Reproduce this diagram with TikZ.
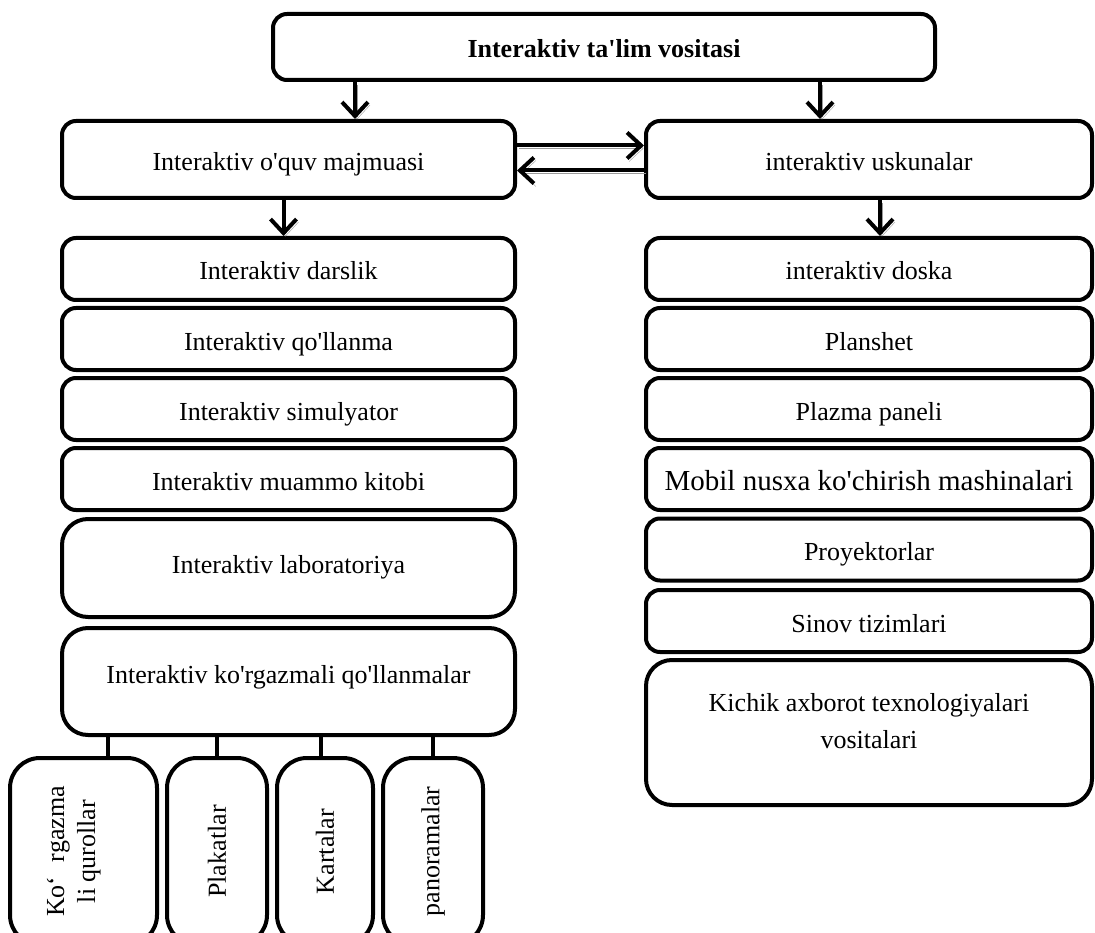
\documentclass[tikz,border=0pt]{standalone}
\usepackage{fontspec}
\setmainfont{Liberation Serif}[Ligatures=TeXOff]
\usetikzlibrary{arrows.meta, positioning, calc}
\definecolor{CShadow}{HTML}{9A9A9A}

\tikzset{
  box/.style={draw, line width=4pt, rounded corners=14pt, minimum height=62pt, inner sep=0pt,
    text height=23pt, text depth=1pt},
  leftbox/.style={box, minimum width=453pt},
  rightbox/.style={box, minimum width=446pt},
  tallbox/.style={rounded corners=26pt},
  vertbox/.style={box, rounded corners=30pt, minimum height=187pt, text height=, text depth=},
  inlabel/.style={text height=23pt, text depth=1pt},
  arr/.style={line width=4pt, -{Straight Barb[length=14pt,width=26pt]},
    preaction={draw=CShadow, transform canvas={shift={(2pt,-3pt)}}}},
  stub/.style={line width=4pt}
}

\begin{document}
\begin{tikzpicture}[x=1pt, y=-1pt, font=\fontsize{26pt}{31pt}\selectfont]
    \useasboundingbox (0,0) rectangle (1095,933);
    \clip (0,0) rectangle (1095,933);

    % Top
    \node[box, minimum width=662pt, minimum height=66pt, font=\fontsize{26pt}{31pt}\selectfont\bfseries] (vosita) at (604,47) {Interaktiv ta'lim vositasi};

    % Level 1
    \node[leftbox, minimum height=77pt] (majmua) at (288.5,159.5) {Interaktiv o'quv majmuasi};
    \node[rightbox, minimum height=77pt] (uskuna) at (869,159.5) {interaktiv uskunalar};

    % Left column
    \node[leftbox] (darslik) at (288.5,269) {Interaktiv darslik};
    \node[leftbox] (qollanma) at (288.5,339) {Interaktiv qo'llanma};
    \node[leftbox] (simul) at (288.5,409) {Interaktiv simulyator};
    \node[leftbox] (muammo) at (288.5,479) {Interaktiv muammo kitobi};
    \node[leftbox, tallbox, minimum height=98pt,
      label={[inlabel, yshift=6pt]center:Interaktiv laboratoriya}] (labor) at (288.5,568) {};
    \node[leftbox, tallbox, minimum height=107pt,
      label={[inlabel, yshift=9pt]center:Interaktiv ko'rgazmali qo'llanmalar}] (korgaz) at (288.5,681.5) {};

    % Right column
    \node[rightbox] (doska) at (869,269) {interaktiv doska};
    \node[rightbox] (planshet) at (869,339) {Planshet};
    \node[rightbox] (plazma) at (869,409) {Plazma paneli};
    \node[rightbox, font=\fontsize{29pt}{31pt}\selectfont] (mobil) at (869,479) {Mobil nusxa ko'chirish mashinalari};
    \node[rightbox] (proyek) at (869,549.5) {Proyektorlar};
    \node[rightbox] (sinov) at (869,621) {Sinov tizimlari};
    \node[rightbox, tallbox, minimum height=145pt,
      label={[align=center, font=\fontsize{26pt}{37pt}\selectfont, yshift=11pt]center:{Kichik axborot texnologiyalari\\vositalari}}] (kichik) at (869,732.5) {};

    % Bottom row
    \node[vertbox, minimum width=147pt,
      label={[xshift=-10pt]center:\rotatebox{90}{\begin{tabular}{@{}c@{}}Ko‘\hspace{0.3em} rgazma\\li qurollar\end{tabular}}}] (kqurol) at (83.5,851.5) {};
    \node[vertbox, minimum width=100pt] (plakat) at (217,851.5) {\rotatebox{90}{Plakatlar}};
    \node[vertbox, minimum width=96pt] (karta) at (325,851.5) {\rotatebox{90}{Kartalar}};
    \node[vertbox, minimum width=100pt] (panorama) at (433,851.5) {\rotatebox{90}{panoramalar}};

    % Arrows
    \draw[arr] ([xshift=-249pt]vosita.south) -- ([xshift=-249pt]vosita.south |- majmua.north);
    \draw[arr] ([xshift=216pt]vosita.south) -- ([xshift=216pt]vosita.south |- uskuna.north);
    \draw[arr] ([yshift=14pt]majmua.east) -- ([yshift=14pt]uskuna.west);
    \draw[arr] ([yshift=-11pt]uskuna.west) -- ([yshift=-11pt]majmua.east);
    \draw[arr] ([xshift=-5pt]majmua.south) -- ([xshift=-5pt]darslik.north);
    \draw[arr] ([xshift=11pt]uskuna.south) -- ([xshift=11pt]doska.north);

    % Links to bottom row
    \draw[stub] ([xshift=24.5pt]kqurol.north) -- ([xshift=24.5pt]kqurol.north |- korgaz.south);
    \draw[stub] (plakat.north) -- (plakat.north |- korgaz.south);
    \draw[stub] ([xshift=-4pt]karta.north) -- ([xshift=-4pt]karta.north |- korgaz.south);
    \draw[stub] (panorama.north) -- (panorama.north |- korgaz.south);
\end{tikzpicture}
\end{document}
